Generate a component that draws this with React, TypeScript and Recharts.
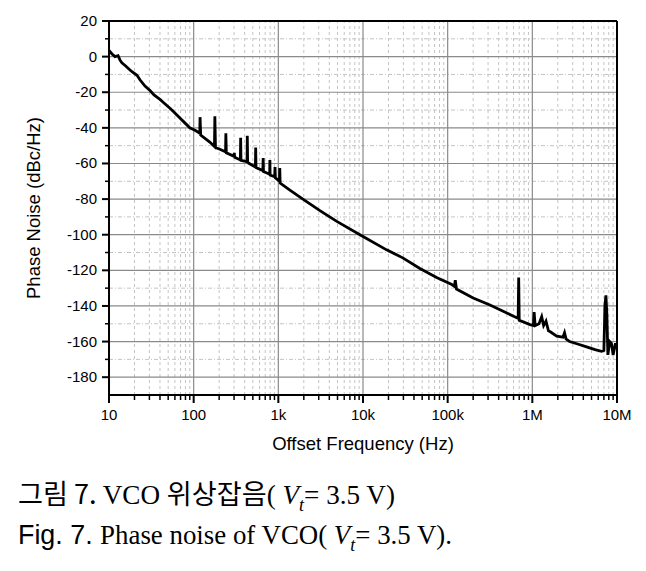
import { LineChart, Line, XAxis, YAxis, ReferenceLine } from 'recharts';

const freq = [
    10, 10.85, 11.8, 12.8, 13.5, 14.2, 15.5, 17.7, 18.7, 21.4, 23.2, 26.6, 30.5, 34, 40, 44.6, 52.5, 58, 68.8, 76, 90, 105,
    118, 119, 121, 155, 176, 178, 181, 204, 238, 240, 243, 300, 302, 305, 356, 359, 362, 427, 430, 434,
    536, 540, 545, 656, 662, 668, 790, 795, 800, 905, 914, 922, 1030, 1040, 1050,
    1370, 1950, 3100, 4900, 10000, 19000, 29500, 47000, 74000, 112000,
    120000, 123000, 127000, 200000, 316000, 500000, 680000, 690000, 700000, 940000,
    1030000, 1050000, 1080000, 1200000, 1290000, 1360000, 1450000, 1550000, 1630000, 1940000,
    2300000, 2400000, 2500000, 2760000, 3500000, 4370000, 5500000, 6550000, 7000000,
    7200000, 7400000, 7600000, 7800000, 8200000, 8600000, 9000000, 9600000, 10000000,
];
const phaseNoise = [
    3.5, 1.5, 0, 0.5, -2, -3.5, -5, -7.5, -8.5, -10.5, -13, -16.5, -19, -21.5, -24, -26, -29, -31, -34.5, -36.5, -40, -41.5,
    -43, -34, -44, -48, -50.5, -33.5, -51, -52, -53.5, -43, -54, -56, -54, -56.5, -58, -45.5, -58.3, -59, -44.5, -59.5,
    -62, -51, -62.3, -64, -57, -64.5, -66, -58, -66.5, -67.5, -62, -68, -70, -62.5, -71,
    -75, -80, -86.5, -92.5, -101, -108.5, -113, -119, -124, -128,
    -129, -125.5, -130.5, -135.5, -139.5, -144, -147, -124, -148, -150.5,
    -151, -143.5, -151, -150, -146, -151, -148.5, -154, -154.5, -157,
    -157.5, -155, -158.5, -160, -161.5, -163, -164.5, -165.5, -165,
    -140, -134, -145, -167.5, -160, -161, -167.5, -161, -164,
];

const xMajorTicks = [10, 100, 1e3, 1e4, 1e5, 1e6, 1e7];
const xTickLabels = ['10', '100', '1k', '10k', '100k', '1M', '10M'];
const xMinorTicks = xMajorTicks.slice(0, -1).flatMap(d => [2, 3, 4, 5, 6, 7, 8, 9].map(m => d * m));
const yMajorTicks = [-180, -160, -140, -120, -100, -80, -60, -40, -20, 0, 20];
const yMinorTicks = [-170, -150, -130, -110, -90, -70, -50, -30, -10, 10];

const data = freq.map((f, i) => ({ f, pn: phaseNoise[i] }));

const XTick = (props: any) => {
    const { x, y, payload } = props;
    const idx = xMajorTicks.indexOf(payload.value);
    const major = idx >= 0;
    return (
        <g>
            <line x1={x} y1={y} x2={x} y2={y + (major ? 8 : 5)} stroke="#000" strokeWidth={major ? 2 : 1.5} />
            {major && (
                <text x={x} y={y + 25} textAnchor="middle" fontSize={15} fill="#000">
                    {xTickLabels[idx]}
                </text>
            )}
        </g>
    );
};

const YTick = (props: any) => {
    const { x, y, payload } = props;
    const major = yMajorTicks.includes(payload.value);
    return (
        <g>
            <line x1={x} y1={y} x2={x - (major ? 7 : 4)} y2={y} stroke="#000" strokeWidth={major ? 2 : 1.5} />
            {major && (
                <text x={x - 12} y={y + 5} textAnchor="end" fontSize={15} fill="#000">
                    {payload.value}
                </text>
            )}
        </g>
    );
};

export default function App() {
    return (
        <div style={{ position: 'absolute', left: 0, top: 0, width: 646, height: 571, background: '#fff', fontFamily: '"Liberation Sans", Arial, sans-serif' }}>
            <LineChart width={646} height={460} data={data} margin={{ top: 21, right: 29, bottom: 5, left: 0 }}>
                <XAxis
                    dataKey="f"
                    type="number"
                    scale="log"
                    domain={[10, 1e7]}
                    allowDataOverflow
                    ticks={[...xMajorTicks, ...xMinorTicks]}
                    interval={0}
                    tickSize={0}
                    tickMargin={0}
                    tickLine={false}
                    tick={<XTick />}
                    axisLine={{ stroke: '#000', strokeWidth: 2 }}
                    height={60}
                    label={{ value: 'Offset Frequency (Hz)', position: 'insideBottom', offset: 5, style: { fontSize: 18.5, fill: '#000' } }}
                />
                <YAxis
                    type="number"
                    domain={[-190, 20]}
                    allowDataOverflow
                    ticks={[...yMajorTicks, ...yMinorTicks]}
                    interval={0}
                    tickSize={0}
                    tickMargin={0}
                    tickLine={false}
                    tick={<YTick />}
                    axisLine={{ stroke: '#000', strokeWidth: 2 }}
                    width={109}
                    label={{ value: 'Phase Noise (dBc/Hz)', angle: -90, position: 'insideLeft', offset: 33, style: { textAnchor: 'middle', fontSize: 18.5, fill: '#000' } }}
                />
                {xMinorTicks.map(v => (
                    <ReferenceLine key={'xm' + v} x={v} stroke="#c4c4c4" strokeDasharray="3 3" />
                ))}
                {yMinorTicks.map(v => (
                    <ReferenceLine key={'ym' + v} y={v} stroke="#c4c4c4" strokeDasharray="4 2 1 2" />
                ))}
                {xMajorTicks.slice(1, -1).map(v => (
                    <ReferenceLine key={'xM' + v} x={v} stroke="#8a8a8a" strokeWidth={1.2} />
                ))}
                {yMajorTicks.slice(0, -1).map(v => (
                    <ReferenceLine key={'yM' + v} y={v} stroke="#8a8a8a" strokeWidth={1.2} />
                ))}
                <ReferenceLine y={20} stroke="#000" strokeWidth={2} />
                <ReferenceLine x={1e7} stroke="#000" strokeWidth={2} />
                <Line
                    type="linear"
                    dataKey="pn"
                    stroke="#000"
                    strokeWidth={2.8}
                    dot={false}
                    isAnimationActive={false}
                />
            </LineChart>
            <svg width={646} height={571} style={{ position: 'absolute', left: 0, top: 0, pointerEvents: 'none' }}>
                <text x={18} y={504} fontSize={27} fill="#000" fontFamily='"Liberation Serif", serif' textLength={377} lengthAdjust="spacingAndGlyphs">
                    <tspan fontFamily='"Noto Sans CJK KR"'>{'그림 7. '}</tspan>
                    <tspan>{'VCO '}</tspan>
                    <tspan fontFamily='"Noto Sans CJK KR"'>{'위상잡음'}</tspan>
                    <tspan>{'( '}</tspan>
                    <tspan fontStyle="italic">V</tspan>
                    <tspan fontStyle="italic" fontSize={18} dy={7}>t</tspan>
                    <tspan dy={-7}>{'= 3.5  V)'}</tspan>
                </text>
                <text x={18} y={544} fontSize={27} fill="#000" fontFamily='"Liberation Serif", serif' textLength={434} lengthAdjust="spacingAndGlyphs">
                    <tspan fontFamily='"Liberation Sans", sans-serif'>{'Fig.  7.  '}</tspan>
                    <tspan>{'Phase  noise  of  VCO( '}</tspan>
                    <tspan fontStyle="italic">V</tspan>
                    <tspan fontStyle="italic" fontSize={18} dy={7}>t</tspan>
                    <tspan dy={-7}>{'= 3.5  V).'}</tspan>
                </text>
            </svg>
        </div>
    );
}
